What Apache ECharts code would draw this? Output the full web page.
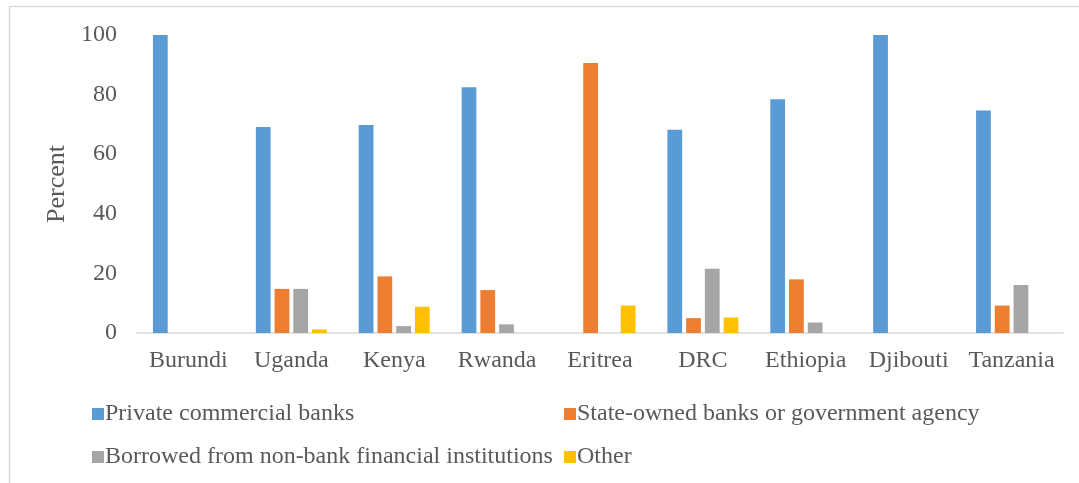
<!DOCTYPE html>
<html>
<head>
<meta charset="utf-8">
<script src="https://cdn.jsdelivr.net/npm/echarts@6/dist/echarts.min.js"></script>
<style>
  html, body { margin: 0; padding: 0; background: #ffffff; }
  #chart { width: 1079px; height: 483px; }
</style>
</head>
<body>
<div id="chart"></div>
<script>
// Source of borrowed funds by country (percent of firms)
const countries = ['Burundi', 'Uganda', 'Kenya', 'Rwanda', 'Eritrea', 'DRC', 'Ethiopia', 'Djibouti', 'Tanzania'];
const privateBanks = [100, 69.1, 69.8, 82.5, 0, 68.2, 78.4, 100, 74.7];
const stateBanks   = [0, 14.8, 19.0, 14.4, 90.6, 5.0, 18.0, 0, 9.2];
const nonBank      = [0, 14.8, 2.3, 2.9, 0, 21.6, 3.5, 0, 16.1];
const otherSource  = [0, 1.2, 8.8, 0, 9.2, 5.2, 0, 0, 0];
const yTicks = [0, 20, 40, 60, 80, 100];

const seriesNames = [
  'Private commercial banks',
  'State-owned banks or government agency',
  'Borrowed from non-bank financial institutions',
  'Other'
];
const seriesData = [privateBanks, stateBanks, nonBank, otherSource];
const colors = ['#5b9bd5', '#ed7d31', '#a5a5a5', '#ffc000'];

const FONT = '"Liberation Serif", "Times New Roman", serif';
const TEXT = '#595959';

const chart = echarts.init(document.getElementById('chart'), null, { renderer: 'canvas' });

const legendBase = {
  orient: 'vertical',
  itemWidth: 12,
  itemHeight: 12,
  itemGap: 19,
  icon: 'rect',
  selectedMode: false,
  textStyle: { fontFamily: FONT, fontSize: 24, color: TEXT, padding: [0, 0, 0, -4], lineHeight: 24 }
};

chart.setOption({
  animation: false,
  color: colors,
  grid: { left: 137, right: 16, top: 35, bottom: 150 },
  legend: [
    Object.assign({}, legendBase, { left: 87, top: 397, data: [seriesNames[0], seriesNames[2]] }),
    Object.assign({}, legendBase, { left: 559, top: 397, data: [seriesNames[1], seriesNames[3]] })
  ],
  xAxis: {
    type: 'category',
    data: countries,
    axisLine: { lineStyle: { color: '#d9d9d9', width: 1.5 } },
    axisTick: { show: false },
    axisLabel: { fontFamily: FONT, fontSize: 24, color: TEXT, margin: 16, interval: 0 }
  },
  yAxis: {
    type: 'value',
    min: yTicks[0],
    max: yTicks[yTicks.length - 1],
    interval: yTicks[1] - yTicks[0],
    name: 'Percent',
    nameLocation: 'middle',
    nameRotate: 90,
    nameGap: 65,
    nameTextStyle: { fontFamily: FONT, fontSize: 26, color: TEXT },
    axisLine: { show: false },
    axisTick: { show: false },
    splitLine: { show: false },
    axisLabel: { fontFamily: FONT, fontSize: 24, color: TEXT, margin: 20 }
  },
  series: seriesNames.map((name, i) => ({
    name: name,
    type: 'bar',
    data: seriesData[i],
    barGap: '27%',
    barCategoryGap: '31%',
    itemStyle: { color: colors[i] }
  })),
  graphic: [
    {
      type: 'polyline',
      silent: true,
      shape: { points: [[9.5, 483], [9.5, 6.5], [1079, 6.5]] },
      style: { stroke: '#d9d9d9', lineWidth: 1.5, fill: null }
    }
  ]
});
</script>
</body>
</html>
